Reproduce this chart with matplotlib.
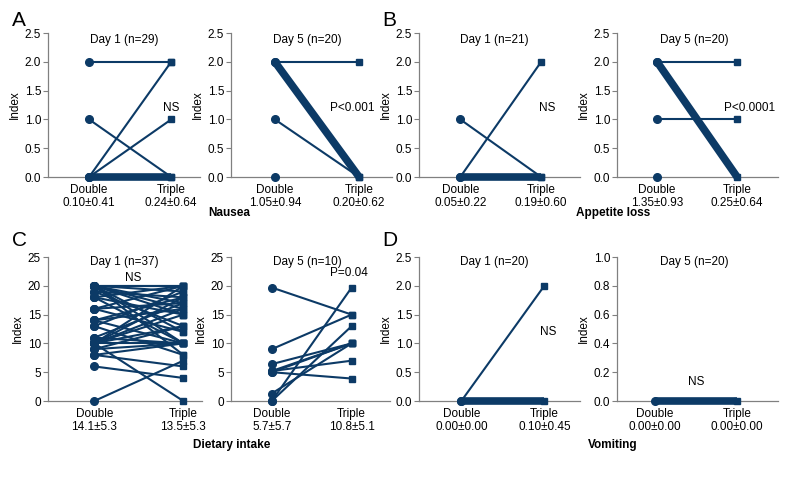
import matplotlib
matplotlib.use('Agg')
import matplotlib.pyplot as plt
from matplotlib.ticker import FormatStrFormatter

plt.rcParams['font.family'] = ['Liberation Sans', 'DejaVu Sans']

navy = '#0c3a66'
grey = '#808080'

#A nausea, day 1 and day 5
nausea_d1_double = [2, 1, 0, 0, 0]
nausea_d1_triple = [2, 0, 2, 1, 0]
nausea_d1_count = [1, 1, 1, 2, 24]
nausea_d1_alone = []

nausea_d5_double = [2, 1, 2]
nausea_d5_triple = [2, 0, 0]
nausea_d5_count = [2, 1, 8]
nausea_d5_alone = [0]

#B appetite loss
appetite_d1_double = [1, 0, 0]
appetite_d1_triple = [0, 2, 0]
appetite_d1_count = [1, 2, 18]
appetite_d1_alone = []

appetite_d5_double = [2, 1, 2]
appetite_d5_triple = [2, 1, 0]
appetite_d5_count = [2, 1, 11]
appetite_d5_alone = [0]

#C dietary intake
intake_d1_double = [20, 20, 20, 20, 20, 20, 20, 20, 20, 19, 19, 18, 18, 18,
                    16, 16, 16, 14, 14, 14, 13, 13, 11, 11, 10, 10, 10, 10,
                    10, 10, 10, 9, 9, 8, 8, 6, 0]
intake_d1_triple = [20, 19, 15, 12, 8, 17, 10, 20, 16, 18, 13, 20, 10, 15,
                    17, 12, 20, 10, 18, 16, 19, 8, 17, 10, 0, 20, 16, 13,
                    15, 18, 10, 13, 10, 10, 6, 4, 7]
intake_d1_count = [1] * 37
intake_d1_alone = []

intake_d5_double = [19.7, 9, 6.4, 5.2, 5.2, 5, 1.3, 0, 0, 5]
intake_d5_triple = [15, 15, 10, 10, 7, 3.9, 10, 19.7, 13, 10]
intake_d5_count = [1] * 10
intake_d5_alone = []

#D vomiting
vomit_d1_double = [0, 0]
vomit_d1_triple = [2, 0]
vomit_d1_count = [1, 19]
vomit_d1_alone = []

vomit_d5_double = [0]
vomit_d5_triple = [0]
vomit_d5_count = [20]
vomit_d5_alone = []

titles = ['Day 1 (n=29)', 'Day 5 (n=20)', 'Day 1 (n=21)', 'Day 5 (n=20)',
          'Day 1 (n=37)', 'Day 5 (n=10)', 'Day 1 (n=20)', 'Day 5 (n=20)']
xlabels = [('0.10±0.41', '0.24±0.64'), ('1.05±0.94', '0.20±0.62'),
           ('0.05±0.22', '0.19±0.60'), ('1.35±0.93', '0.25±0.64'),
           ('14.1±5.3', '13.5±5.3'), ('5.7±5.7', '10.8±5.1'),
           ('0.00±0.00', '0.10±0.45'), ('0.00±0.00', '0.00±0.00')]
stats = ['NS', 'P<0.001', 'NS', 'P<0.0001', 'NS', 'P=0.04', 'NS', 'NS']

panels = [
    (nausea_d1_double, nausea_d1_triple, nausea_d1_count, nausea_d1_alone),
    (nausea_d5_double, nausea_d5_triple, nausea_d5_count, nausea_d5_alone),
    (appetite_d1_double, appetite_d1_triple, appetite_d1_count, appetite_d1_alone),
    (appetite_d5_double, appetite_d5_triple, appetite_d5_count, appetite_d5_alone),
    (intake_d1_double, intake_d1_triple, intake_d1_count, intake_d1_alone),
    (intake_d5_double, intake_d5_triple, intake_d5_count, intake_d5_alone),
    (vomit_d1_double, vomit_d1_triple, vomit_d1_count, vomit_d1_alone),
    (vomit_d5_double, vomit_d5_triple, vomit_d5_count, vomit_d5_alone),
]

#layout in pixels: left spine, right end, and x limits per panel
W, H = 792, 480
boxes = [(48, 200, -0.5, 1.35), (231, 392, -0.52, 1.39),
         (419, 580, -0.51, 1.48), (617, 778, -0.5, 1.51),
         (48, 202, -0.52, 1.21), (231, 390, -0.51, 1.48),
         (419, 580, -0.51, 1.43), (617, 778, -0.46, 1.5)]
row_y = [(33, 177), (257, 401)]
ylims = [(0, 2.5)] * 4 + [(0, 25), (0, 25), (0, 2.5), (0, 1.0)]
ysteps = [0.5] * 4 + [5, 5, 0.5, 0.2]
title_x = [0.43, 0.38, 0.42, 0.46, 0.34, 0.44, 0.40, 0.48]
title_y = [0.95] * 4 + [0.965] * 4
stat_pos = [(1.0, 1.2), (0.92, 1.2), (1.08, 1.2), (1.15, 1.2),
            (0.44, 21.4), (0.97, 22.2), (1.05, 1.2), (0.51, 0.13)]


def lw_for(n):
    return 1.5 if n < 5 else 5.5


fig = plt.figure(figsize=(W / 100, H / 100), dpi=100)

for i, (dbl, tri, cnt, alone) in enumerate(panels):
    x0, x1, xa, xb = boxes[i]
    top, bot = row_y[i // 4]
    ax = fig.add_axes([x0 / W, 1 - bot / H, (x1 - x0) / W, (bot - top) / H])

    #thin lines first, thick ones on top
    order = sorted(range(len(dbl)), key=lambda k: cnt[k])
    for k in order:
        ax.plot([0, 1], [dbl[k], tri[k]], color=navy, lw=lw_for(cnt[k]),
                solid_capstyle='butt', zorder=3, clip_on=False)
    ax.plot([0] * len(dbl), dbl, 'o', color=navy, ms=5.5, zorder=4, clip_on=False)
    ax.plot([1] * len(tri), tri, 's', color=navy, ms=4.8, zorder=4, clip_on=False)
    if alone:
        ax.plot([0] * len(alone), alone, 'o', color=navy, ms=5.5, zorder=4, clip_on=False)

    ax.set_xlim(xa, xb)
    lo, hi = ylims[i]
    ax.set_ylim(lo, hi)
    step = ysteps[i]
    n = int(round((hi - lo) / step))
    ax.set_yticks([lo + step * j for j in range(n + 1)])
    if step < 1:
        ax.yaxis.set_major_formatter(FormatStrFormatter('%.1f'))
    ax.set_xticks([0, 1])
    ax.set_xticklabels(['Double\n' + xlabels[i][0], 'Triple\n' + xlabels[i][1]],
                       fontsize=8.5, linespacing=1.15)
    ax.tick_params(axis='x', length=0, pad=5)
    ax.tick_params(axis='y', length=3.5, width=0.8, color=grey, labelsize=8.5, pad=1.5)

    for s in ['top', 'right']:
        ax.spines[s].set_visible(False)
    for s in ['left', 'bottom']:
        ax.spines[s].set_color(grey)
        ax.spines[s].set_linewidth(0.9)
        ax.spines[s].set_zorder(1)

    ax.set_ylabel('Index', fontsize=8.5, labelpad=3)
    ax.patch.set_alpha(0)

    ax.text(title_x[i], title_y[i], titles[i], transform=ax.get_xaxis_transform(),
            ha='center', va='center', fontsize=8.5)
    sx, sy = stat_pos[i]
    ax.text(sx, sy, stats[i], ha='center', va='center', fontsize=8.5)

#panel letters and group names
for letter, px, py in [('A', 12, 20), ('B', 382, 20), ('C', 12, 240), ('D', 382, 240)]:
    fig.text(px / W, 1 - py / H, letter, fontsize=15, ha='left', va='center')

for name, px, py in [('Nausea', 208, 213), ('Appetite loss', 576, 213),
                     ('Dietary intake', 193, 445), ('Vomiting', 588, 445)]:
    fig.text(px / W, 1 - py / H, name, fontsize=8.5, fontweight='bold', ha='left', va='center')

fig.savefig('out.png', dpi=100)
